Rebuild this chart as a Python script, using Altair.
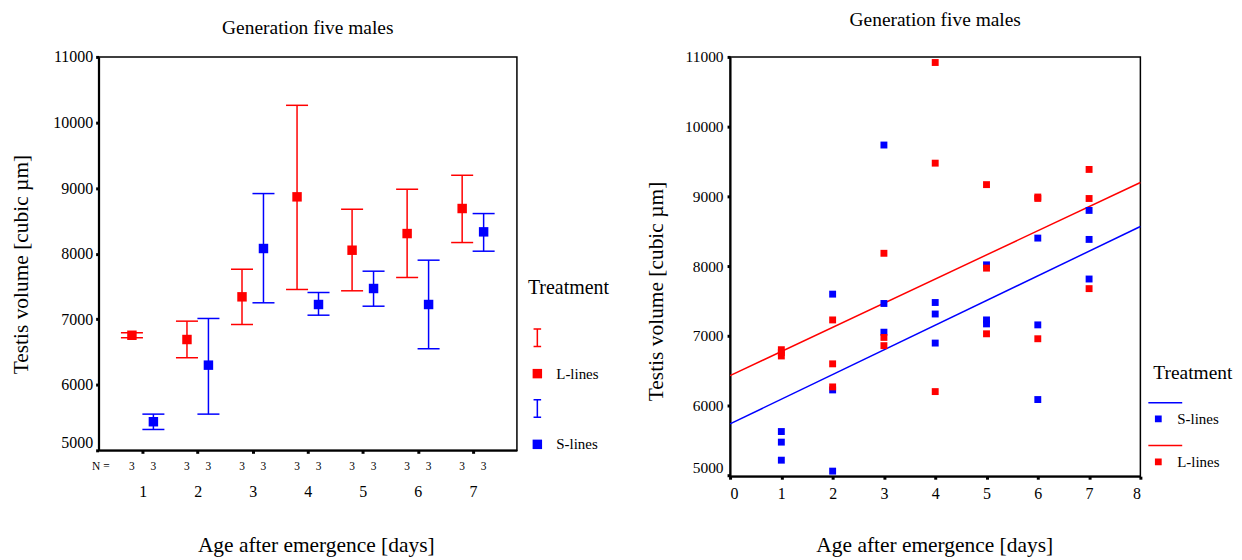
import altair as alt
import pandas as pd

FONT = "Liberation Serif"
RED = "#FF0000"
BLUE = "#0000FF"

# ---------- left panel: mean +/- 1 SE per day ----------
days = [1, 2, 3, 4, 5, 6, 7]
l_mean = [6755, 6690, 7341, 8866, 8052, 8306, 8688]
l_low = [6717, 6412, 6919, 7453, 7433, 7636, 8169]
l_high = [6793, 6970, 7762, 10262, 8677, 8982, 9195]
s_mean = [5436, 6299, 8078, 7224, 7468, 7224, 8332]
s_low = [5318, 5552, 7250, 7061, 7198, 6549, 8037]
s_high = [5552, 7011, 8916, 7407, 7732, 7900, 8611]
l_n = [3, 3, 3, 3, 3, 3, 3]
s_n = [3, 3, 3, 3, 3, 3, 3]

# ---------- right panel: individual males ----------
s_day = [1, 1, 1, 2, 2, 2, 3, 3, 3, 4, 4, 4, 5, 5, 5, 6, 6, 6, 7, 7, 7]
s_val = [5626, 5474, 5215, 7597, 6223, 5058, 9736, 7463, 7051, 7477, 7312, 6895,
         8017, 7227, 7170, 8401, 7156, 6085, 8798, 8382, 7814]
l_day = [1, 1, 1, 2, 2, 2, 3, 3, 3, 4, 4, 4, 5, 5, 5, 6, 6, 6, 7, 7, 7]
l_val = [6800, 6760, 6710, 7227, 6597, 6266, 8183, 6976, 6858, 10920, 9476, 6199,
         9168, 7970, 7028, 8990, 8970, 6957, 9386, 8969, 7676]

y_ticks = [5000, 6000, 7000, 8000, 9000, 10000, 11000]

rows = []
for i, d in enumerate(days):
    for cat, off, m, lo, hi, n in [
        ("L-lines", -0.195, l_mean[i], l_low[i], l_high[i], l_n[i]),
        ("S-lines", 0.195, s_mean[i], s_low[i], s_high[i], s_n[i]),
    ]:
        xp = d + off
        rows.append(dict(day=d, cat=cat, xpos=xp, xl=xp - 0.2, xr=xp + 0.2,
                         mean=m, lo=lo, hi=hi, n=n))
left_df = pd.DataFrame(rows)

right_df = pd.DataFrame(
    {"day": s_day + l_day, "value": s_val + l_val,
     "Treatment": ["S-lines"] * len(s_day) + ["L-lines"] * len(l_day)}
)

I_PATH = "M-0.4,-1H0.4V-0.84H-0.4Z M-0.08,-1H0.08V1H-0.08Z M-0.4,0.84H0.4V1H-0.4Z"
SQ_PATH = "M-0.5,-0.5H0.5V0.5H-0.5Z"
COMBO_PATH = "M-1.5,-1.705H1.9V-1.555H-1.5Z M-0.84,-0.34H-0.16V0.34H-0.84Z"

cat_domain = ["L-bar", "L-lines", "S-bar", "S-lines"]
cat_colors = [RED, RED, BLUE, BLUE]
cat_shapes = [I_PATH, SQ_PATH, I_PATH, SQ_PATH]

LW, LH = 420, 395
RW, RH = 412, 421

five_base = {"condition": {"test": "datum.value == 5000", "value": "bottom"}, "value": "middle"}

# ----- left chart -----
xL_scale = alt.Scale(domain=[0.2, 7.8], nice=False, zero=False)
xL_axis = alt.Axis(values=days, title="Age after emergence [days]", labelFontSize=16,
                   labelPadding=30, titleFontSize=21.5, titleX=218, titleY=96,
                   titleBaseline="middle", titleAlign="center", labelAngle=0, format="d")
yL_scale = alt.Scale(domain=[5000, 11000], nice=False, zero=False)
yL_axis = alt.Axis(values=y_ticks, title="Testis volume [cubic µm]", labelFontSize=16,
                   labelPadding=3, labelBaseline=five_base, titleFontSize=21.5, format="d",
                   titleX=-77, titleY=208, titleBaseline="middle", titleAlign="center")


def xl(f):
    return alt.X(f, type="quantitative", scale=xL_scale, axis=xL_axis)


def yl(f):
    return alt.Y(f, type="quantitative", scale=yL_scale, axis=yL_axis)


bar_stroke = alt.Stroke("cat:N", scale=alt.Scale(domain=["L-lines", "S-lines"], range=[RED, BLUE]), legend=None)

base_l = alt.Chart(left_df)
stems = base_l.mark_rule(strokeWidth=1.5).encode(x=xl("xpos"), y=yl("lo"), y2="hi:Q", stroke=bar_stroke)
cap_lo = base_l.mark_rule(strokeWidth=1.5).encode(x=xl("xl"), x2="xr:Q", y=yl("lo"), stroke=bar_stroke)
cap_hi = base_l.mark_rule(strokeWidth=1.5).encode(x=xl("xl"), x2="xr:Q", y=yl("hi"), stroke=bar_stroke)

legL = alt.Legend(orient="none", legendX=431, legendY=222.5, title="Treatment",
                  titleFontSize=20, labelFontSize=15, symbolSize=361, rowPadding=17,
                  titlePadding=30, labelOffset=9.5, symbolStrokeWidth=0,
                  labelExpr="datum.label == 'L-bar' || datum.label == 'S-bar' ? '' : datum.label")
pts_l = base_l.mark_point(filled=True, opacity=1, size=361).encode(
    x=xl("xpos"), y=yl("mean"),
    color=alt.Color("cat:N", scale=alt.Scale(domain=cat_domain, range=cat_colors), legend=legL),
    shape=alt.Shape("cat:N", scale=alt.Scale(domain=cat_domain, range=cat_shapes), legend=legL),
)
n_text = base_l.mark_text(fontSize=11.5, font=FONT, baseline="middle", align="center", color="black").encode(
    x=xl("xpos"), y=alt.value(LH + 17), text="n:Q")
n_label = alt.Chart(pd.DataFrame({"t": ["N ="]})).mark_text(
    fontSize=11.5, font=FONT, baseline="middle", align="right", color="black").encode(
    x=alt.value(11), y=alt.value(LH + 17), text="t:N")

left = alt.layer(stems, cap_lo, cap_hi, pts_l, n_text, n_label).properties(
    width=LW, height=LH,
    title=alt.Title("Generation five males", anchor="middle", frame="group", offset=11,
                    fontSize=19.5, font=FONT, fontWeight="normal", color="black"),
)

# ----- right chart -----
xR = alt.X("day:Q", scale=alt.Scale(domain=[0, 8], nice=False, zero=False),
           axis=alt.Axis(values=list(range(9)), title="Age after emergence [days]",
                         labelFontSize=16, labelPadding=6, titleFontSize=21.5, format="d",
                         titleX=205, titleY=70, titleBaseline="middle", titleAlign="center",
                         labelAngle=0))
yR = alt.Y("value:Q", scale=alt.Scale(domain=[4985, 11000], nice=False, zero=False),
           axis=alt.Axis(values=y_ticks, title="Testis volume [cubic µm]", labelFontSize=15.5,
                         labelPadding=4, labelBaseline=five_base, titleFontSize=21.5, format="d",
                         titleX=-74, titleY=235, titleBaseline="middle", titleAlign="center"))

tr_domain = ["S-lines", "L-lines"]
tr_colors = [BLUE, RED]
legR = alt.Legend(orient="none", legendX=425, legendY=308, title="Treatment",
                  titleFontSize=19.5, labelFontSize=15, symbolType=COMBO_PATH, symbolSize=400,
                  rowPadding=17, titlePadding=26, symbolStrokeWidth=0)

base_r = alt.Chart(right_df)
pts_r = base_r.mark_square(size=48, opacity=1).encode(
    x=xR, y=yR,
    color=alt.Color("Treatment:N", scale=alt.Scale(domain=tr_domain, range=tr_colors), legend=legR),
)
fit_s = base_r.transform_filter(alt.datum.Treatment == "S-lines").transform_regression(
    "day", "value", extent=[0, 8]).mark_line(strokeWidth=1.5, color=BLUE).encode(x=xR, y=yR)
fit_l = base_r.transform_filter(alt.datum.Treatment == "L-lines").transform_regression(
    "day", "value", extent=[0, 8]).mark_line(strokeWidth=1.5, color=RED).encode(x=xR, y=yR)

right = alt.layer(fit_s, fit_l, pts_r).properties(
    width=RW, height=RH,
    title=alt.Title("Generation five males", anchor="middle", frame="group", offset=19.5,
                    fontSize=19.5, font=FONT, fontWeight="normal", color="black"),
)

chart = alt.hconcat(left, right, spacing=34).resolve_scale(
    color="independent", shape="independent", stroke="independent"
).resolve_legend(
    color="independent", shape="independent", stroke="independent"
).properties(
    padding={"left": 2, "top": 0, "right": 0, "bottom": 0}
).configure_view(
    stroke="black", strokeWidth=1.5
).configure_axis(
    domainColor="black", domainWidth=2, tickColor="black", tickWidth=3, tickSize=3,
    grid=False, labelFont=FONT, labelColor="black", titleFont=FONT,
    titleFontWeight="normal", titleColor="black",
).configure_legend(
    labelFont=FONT, titleFont=FONT, titleFontWeight="normal", titleColor="black",
    labelColor="black", padding=0,
).configure_title(
    font=FONT, fontWeight="normal", color="black"
)

chart.save("out.html", embed_options={"renderer": "svg", "actions": False})
